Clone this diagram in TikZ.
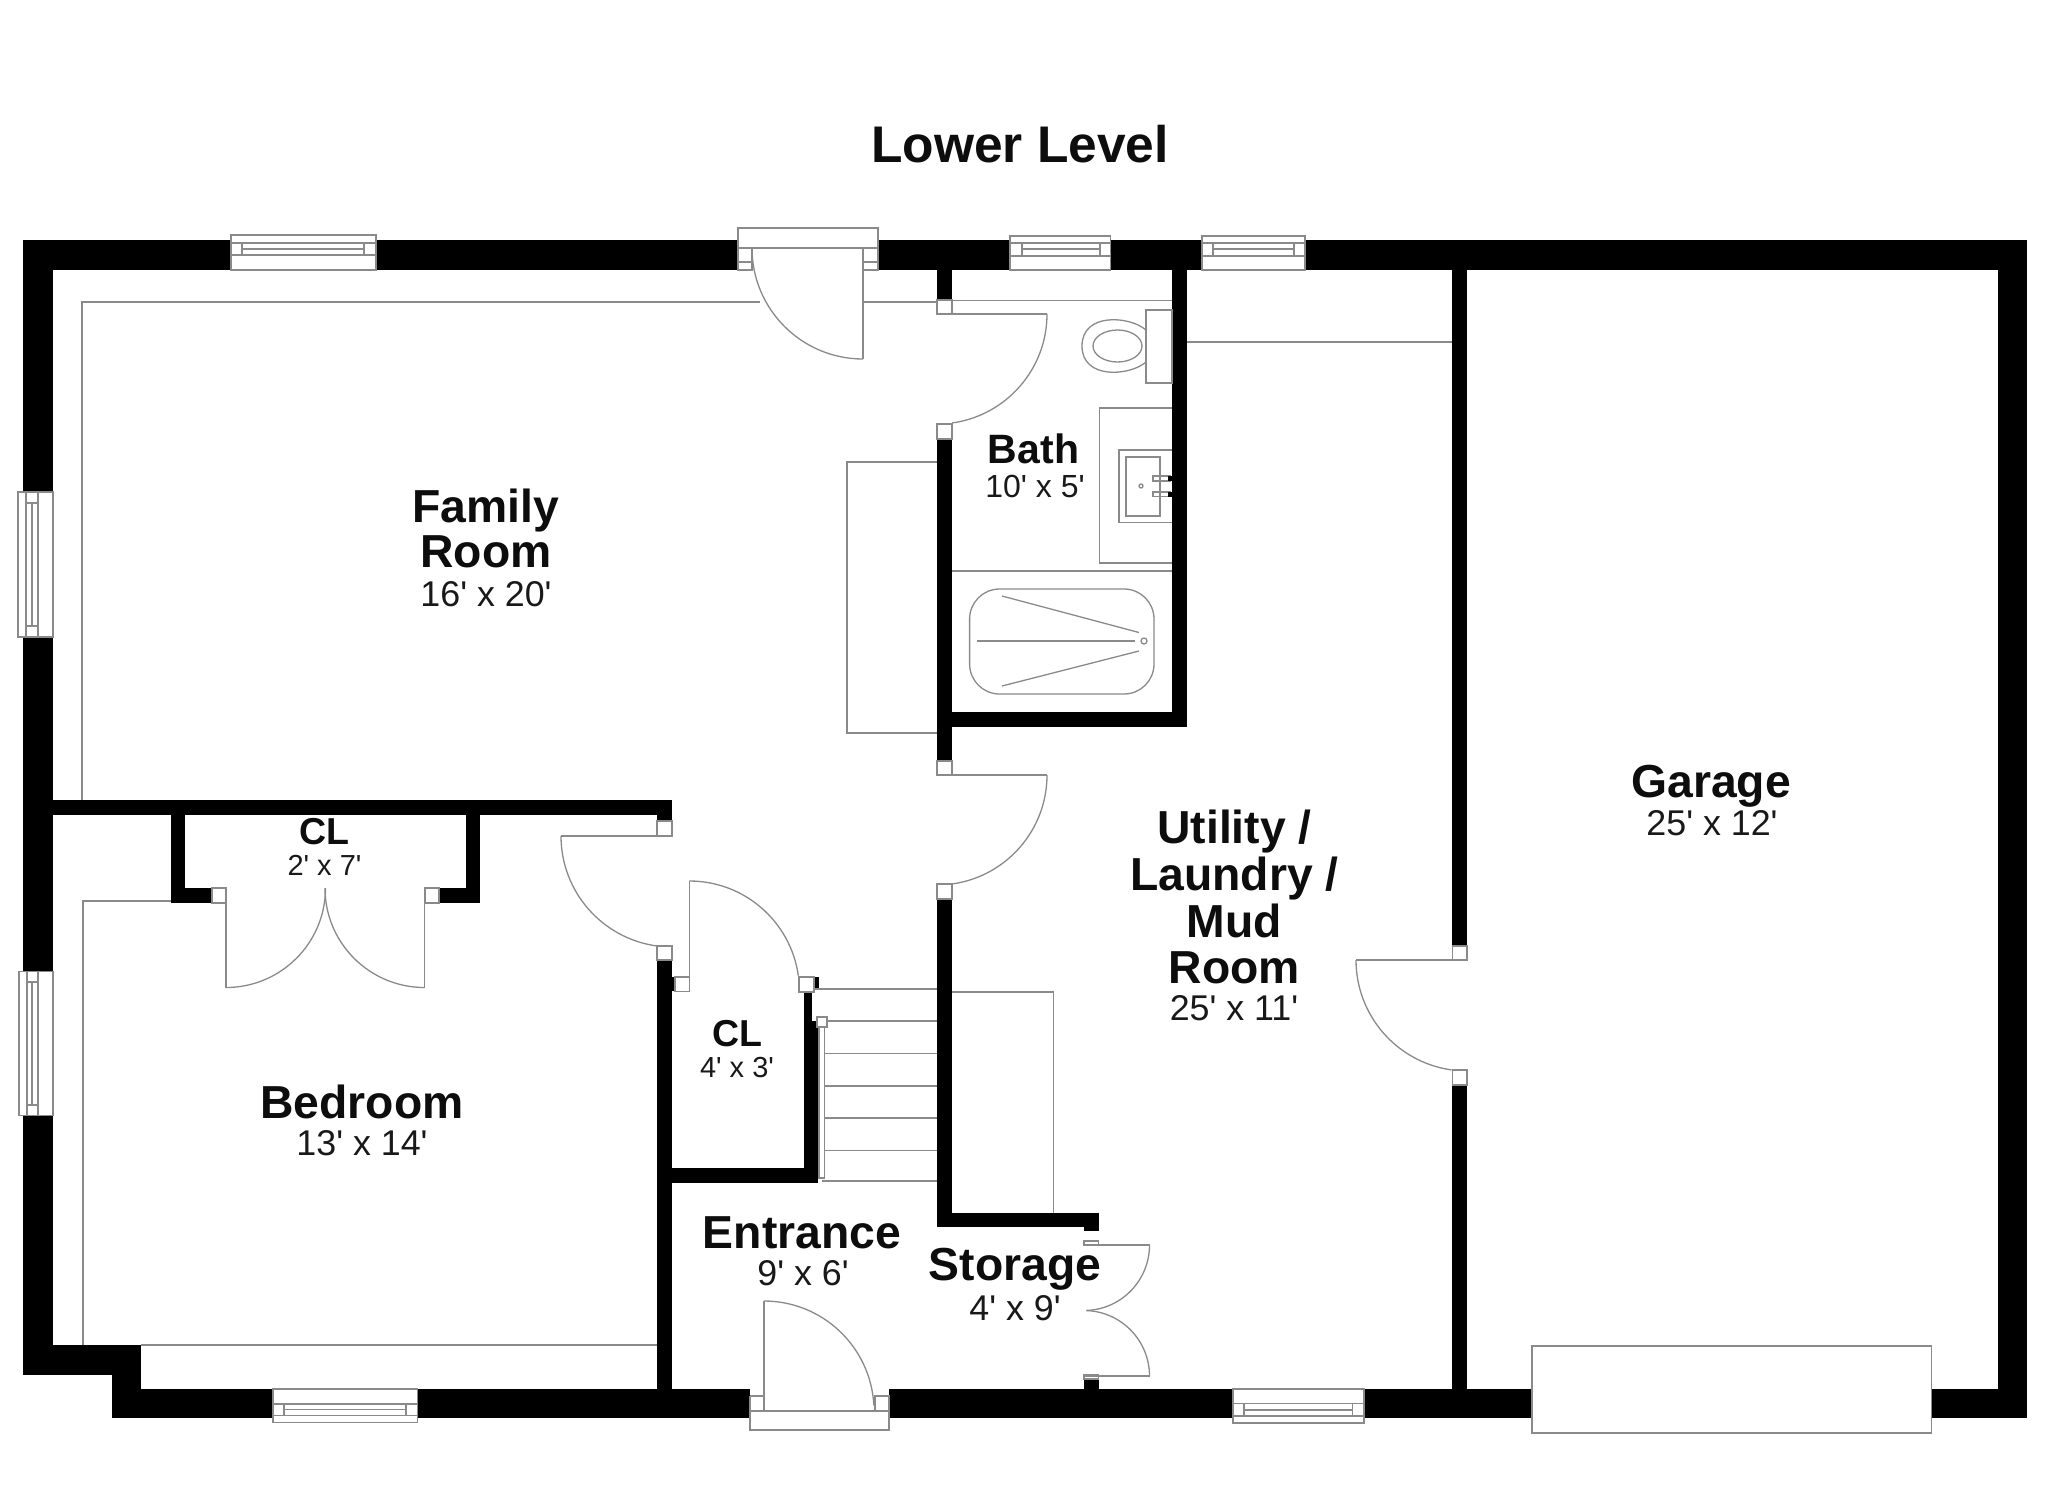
\documentclass[tikz,border=0pt]{standalone}
\usepackage{fontspec}
\newfontfamily\lab{Liberation Sans}
\definecolor{linegray}{HTML}{8A8A8A}
\tikzset{
  wallfill/.style={fill=black,draw=none},
  thin line/.style={draw=linegray,line width=1.3pt},
  jamb/.style={draw=linegray,line width=1.3pt,fill=white},
  gapfill/.style={fill=white,draw=none},
  room/.style={font=\lab\fontsize{46.3}{46}\selectfont\bfseries,anchor=base,inner sep=0pt,text=black!95},
  dims/.style={font=\lab\fontsize{35.8}{36}\selectfont,anchor=base,inner sep=0pt,text=black!90},
  smallroom/.style={font=\lab\fontsize{37.5}{38}\selectfont\bfseries,anchor=base,inner sep=0pt,text=black!95},
  smalldims/.style={font=\lab\fontsize{29}{29}\selectfont,anchor=base,inner sep=0pt,text=black!90},
}
% window in a horizontal wall: x1 x2 ytop ybot xi1 xi2 y1 y2 y3
\newcommand{\hwindow}[9]{
  \path[jamb] (#1,#3) rectangle (#2,#4);
  \draw[thin line] (#1,#7) -- (#2,#7) (#1,#9) -- (#2,#9) (#5,#8) -- (#6,#8)
     (#5,#7) -- (#5,#9) (#6,#7) -- (#6,#9);
}
% window in a vertical wall: y1 y2 xleft xright yi1 yi2 x1 x2 x3
\newcommand{\vwindow}[9]{
  \path[jamb] (#3,#1) rectangle (#4,#2);
  \draw[thin line] (#7,#1) -- (#7,#2) (#9,#1) -- (#9,#2) (#8,#5) -- (#8,#6)
     (#7,#5) -- (#9,#5) (#7,#6) -- (#9,#6);
}
% door arc: centre x, centre y, radius, start angle, end angle (screen angles)
\newcommand{\doorarc}[5]{
  \draw[thin line] ({#1+#3*cos(#4)},{#2-#3*sin(#4)}) arc[start angle=#4,end angle=#5,radius=#3pt];
}
\begin{document}
\begin{tikzpicture}[x=1pt,y=-1pt]
\useasboundingbox (0,0) rectangle (2048,1489);
\fill[white] (0,0) rectangle (2048,1489);

% furniture / soffit lines beneath the walls
\draw[thin line] (82,800) -- (82,302) -- (760,302);
\draw[thin line] (863,302) -- (937,302);
\draw[thin line] (952,300.5) -- (1172,300.5);
\draw[thin line] (1187,342) -- (1452,342);
\draw[thin line] (937,462) -- (847,462) -- (847,733) -- (937,733);
\draw[thin line] (171,901) -- (83,901) -- (83,1345);
\draw[thin line] (141,1345) -- (657.6,1345);
\draw[thin line] (951,992) -- (1053.5,992) -- (1053.5,1213);
\draw[thin line] (952,571) -- (1172,571);

% walls
\path[wallfill] (23,240) rectangle (2027,270);
\path[wallfill] (23,240) rectangle (53,1375);
\path[wallfill] (23,1345) rectangle (141,1375);
\path[wallfill] (111.6,1345) rectangle (141,1418);
\path[wallfill] (111.6,1389) rectangle (2027,1418);
\path[wallfill] (1997.5,240) rectangle (2027,1418);
\path[wallfill] (53,799.5) rectangle (672,815);
\path[wallfill] (657,815) rectangle (672,821);
\path[wallfill] (171,815) rectangle (185,903);
\path[wallfill] (171,888) rectangle (212,903);
\path[wallfill] (466,815) rectangle (480,903);
\path[wallfill] (439,888) rectangle (480,903);
\path[wallfill] (657,960) rectangle (672,1389);
\path[wallfill] (672,977) rectangle (676,991);
\path[wallfill] (804,992) rectangle (812,1022);
\path[wallfill] (804,1021) rectangle (818,1183);
\path[wallfill] (657,1168) rectangle (818,1183);
\path[wallfill] (814,977) rectangle (819,989);
\path[wallfill] (937,270) rectangle (952,300);
\path[wallfill] (937,439) rectangle (952,761);
\path[wallfill] (937,899) rectangle (952,1227);
\path[wallfill] (937,1212.5) rectangle (1098.5,1227);
\path[wallfill] (1084,1227) rectangle (1098.5,1231);
\path[wallfill] (1084,1379) rectangle (1098.5,1389);
\path[wallfill] (1172.4,270) rectangle (1187,726.5);
\path[wallfill] (937,712) rectangle (1187,726.5);
\path[wallfill] (1452.4,270) rectangle (1467,946);
\path[wallfill] (1452.4,1085) rectangle (1467,1389);

% door jambs
\path[jamb] (657,821) rectangle (672,836);
\path[jamb] (657,946) rectangle (672,960);
\path[jamb] (675,977) rectangle (689.4,991.4);
\path[jamb] (799,977) rectangle (814,992);
\path[jamb] (212,888) rectangle (226,903);
\path[jamb] (425,888) rectangle (439,903);
\path[jamb] (937,300) rectangle (952,314);
\path[jamb] (937,424) rectangle (952,439);
\path[jamb] (937,761) rectangle (952,775);
\path[jamb] (937,884) rectangle (952,899);
\path[jamb] (1452.4,946) rectangle (1467,960);
\path[jamb] (1452.4,1070) rectangle (1467,1085);
\path[jamb] (1084,1241) rectangle (1098.5,1245);
\path[jamb] (1084,1375) rectangle (1098.5,1379);

% windows
\hwindow{231}{376}{235}{270}{242}{364}{243}{249}{255}
\hwindow{1010}{1110.5}{236}{270}{1022}{1100}{243}{249}{256}
\hwindow{1202}{1305}{236}{270}{1213}{1294}{243}{249}{256}
\hwindow{273}{417.4}{1389}{1422.5}{284}{406}{1404}{1409.5}{1415.5}
\hwindow{1233}{1364}{1389}{1423}{1244}{1352.5}{1403.6}{1410}{1416}
\vwindow{492}{637}{18}{53}{503}{626}{26}{32}{38}
\vwindow{971.5}{1115.6}{19}{53}{982}{1105}{27}{32}{38}

% top door
\path[jamb] (738,228) rectangle (878,248);
\path[gapfill] (738.6,248.6) rectangle (877.4,270);
\draw[thin line] (738,248) -- (738,270) -- (752,270) -- (752,248);
\draw[thin line] (878,248) -- (878,270) -- (863,270);
\draw[thin line] (738,262) -- (752,262) (863,262) -- (878,262);
\draw[thin line] (863,248) -- (863,359);
\doorarc{863}{248}{111}{180}{270}

% bath door
\draw[thin line] (937,314) -- (1047,314);
\doorarc{937}{314}{110}{0}{-82}

% family-room to utility door
\draw[thin line] (937,775) -- (1047,775);
\doorarc{937}{775}{110}{0}{-82}

% bedroom door
\draw[thin line] (672,836) -- (561,836);
\doorarc{672}{836}{111}{180}{262}

% closet double doors
\draw[thin line] (226,888) -- (226,988);
\draw[thin line] (424.5,888) -- (424.5,988);
\doorarc{226}{888}{99.5}{-90}{0}
\doorarc{424.5}{888}{99.5}{-90}{-180}

% CL door
\draw[thin line] (689.4,991) -- (689.4,881);
\doorarc{689.4}{991}{110}{90}{8}

% utility to garage door
\draw[thin line] (1467,960) -- (1356,960);
\doorarc{1467}{960}{111}{180}{262}

% storage double doors
\draw[thin line] (1084,1245) -- (1149.5,1245);
\doorarc{1084}{1245}{65.5}{0}{-88}
\draw[thin line] (1084,1376) -- (1149.5,1376);
\doorarc{1084}{1376}{65.5}{0}{88}

% entrance door
\path[gapfill] (750,1389) rectangle (889,1418);
\path[jamb] (750,1411) rectangle (889,1430);
\draw[thin line] (750,1396) -- (764,1396) -- (764,1411) (750,1396) -- (750,1411);
\draw[thin line] (875,1411) -- (875,1396) -- (889,1396) -- (889,1411);
\draw[thin line] (764,1396) -- (764,1301);
\doorarc{764}{1411}{110}{90}{3}

% garage door
\path[jamb] (1532,1346) rectangle (1931.5,1433);

% stairs
\draw[thin line] (814,989) -- (936.5,989);
\draw[thin line] (827,1021) -- (936.5,1021);
\foreach \sy in {1053.5,1086,1118,1150.4} {
  \draw[thin line] (825,\sy) -- (936.5,\sy);
}
\draw[thin line] (822,1181) -- (936.5,1181);
\path[jamb] (819,1026) rectangle (824.5,1178);
\path[jamb] (817,1017) rectangle (827,1027);

% toilet
\draw[thin line] (1146,310) rectangle (1172,383);
\draw[thin line] (1146,330) .. controls (1130,316) and (1082,312) .. (1082,346)
  .. controls (1082,380) and (1130,376) .. (1146,362);
\draw[thin line] (1117.5,346) ellipse[x radius=24.5pt,y radius=16pt];

% vanity and sink
\draw[thin line] (1172,408) -- (1099.6,408) -- (1099.6,563) -- (1172,563);
\draw[thin line] (1172,450) -- (1119,450) -- (1119,522.7) -- (1172,522.7);
\draw[thin line] (1126,457) rectangle (1160,516);
\draw[thin line] (1141,486) circle[radius=2pt];
\draw[thin line] (1153,476) rectangle (1170,481);
\draw[thin line] (1153,492) rectangle (1170,496.5);
\fill[black] (1168,476) rectangle (1172,481);
\fill[black] (1168,492) rectangle (1172,496.5);

% bath tub
\draw[thin line,rounded corners=30pt] (969.6,589) rectangle (1154,694);
\draw[thin line] (1002,596) -- (1139,632.5);
\draw[thin line] (977,641) -- (1134.5,641);
\draw[thin line] (1002,686) -- (1139,651);
\draw[thin line] (1144,641) circle[radius=3pt];

% labels
\node[anchor=base,inner sep=0pt,text=black!95,font=\lab\fontsize{51.5}{52}\selectfont\bfseries] (title) at (1020,162) {Lower Level};
\node[room] (family1) at (486,522) {Family};
\node[room] (family2) at (486,567.5) {Room};
\node[dims] (familyd) at (486,606) {16' x 20'};
\node[room] (bedroom) at (362,1118) {Bedroom};
\node[dims] (bedroomd) at (362,1155.5) {13' x 14'};
\node[smallroom] (cla) at (324.5,844.6) {CL};
\node[smalldims] (clad) at (324.5,875) {2' x 7'};
\node[smallroom] (clb) at (737,1046) {CL};
\node[smalldims] (clbd) at (737,1077) {4' x 3'};
\node[room,font=\lab\fontsize{41}{41}\selectfont\bfseries] (bath) at (1033.5,463.5) {Bath};
\node[dims,font=\lab\fontsize{32}{32}\selectfont] (bathd) at (1035,497.5) {10' x 5'};
\node[room] (entrance) at (802,1248.5) {Entrance};
\node[dims] (entranced) at (803,1285) {9' x 6'};
\node[room] (storage) at (1015,1280.5) {Storage};
\node[dims] (storaged) at (1015,1320) {4' x 9'};
\node[room] (util1) at (1234.5,843) {Utility /};
\node[room] (util2) at (1234.5,890) {Laundry /};
\node[room] (util3) at (1234.5,937) {Mud};
\node[room] (util4) at (1234.5,983.6) {Room};
\node[dims] (utild) at (1234,1020.5) {25' x 11'};
\node[room] (garage) at (1711,797) {Garage};
\node[dims] (garaged) at (1712,835.5) {25' x 12'};
\end{tikzpicture}
\end{document}
